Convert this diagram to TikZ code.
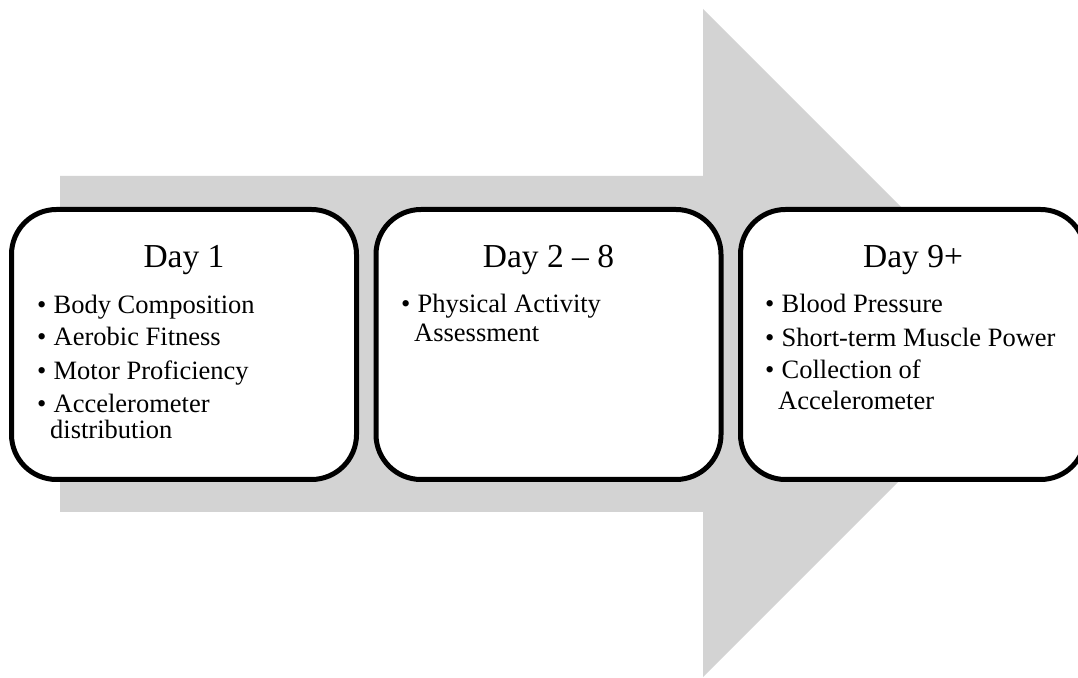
\documentclass[tikz,border=0pt]{standalone}
\usepackage{fontspec}
\setmainfont{Liberation Serif}
\definecolor{arrowgrey}{RGB}{211,211,211}
\newcommand\bul{\makebox[16.5pt][l]{\textbullet}}
\tikzset{
  daybox/.style={draw=black, line width=5pt, fill=white, rounded corners=45pt,
    minimum width=345pt, minimum height=270pt, inner sep=0pt},
  daytitle/.style={anchor=base, inner sep=0pt, font=\fontsize{33.5}{36}\selectfont},
  dayitem/.style={anchor=base west, inner sep=0pt, font=\fontsize{26.5}{28}\selectfont},
}
\begin{document}
\begin{tikzpicture}[x=1pt,y=1pt]
\useasboundingbox (0,0) rectangle (1078,677);
\clip (0,0) rectangle (1078,677);
\fill[arrowgrey] (60,501) -- (703,501) -- (703,668) -- (1037,334) -- (703,0) -- (703,165) -- (60,165) -- cycle;
\node[daybox] (b1) at (184,332.5) {};
\node[daybox] (b2) at (548.5,332.5) {};
\node[daybox] (b3) at (913,332.5) {};
\node[daytitle] (t1) at (184,409.5) {Day 1};
\node[daytitle] (t2) at (548.5,409.5) {Day 2 – 8};
\node[daytitle] (t3) at (913,409.5) {Day 9+};
\node[dayitem] (i11) at (37,363) {\bul Body Composition};
\node[dayitem] (i12) at (37,331) {\bul Aerobic Fitness};
\node[dayitem] (i13) at (37,297) {\bul Motor Proficiency};
\node[dayitem] (i14) at (37,264) {\bul Accelerometer};
\node[dayitem] (i14b) at (50,238) {distribution};
\node[dayitem] (i21) at (401,364) {\bul Physical Activity};
\node[dayitem] (i21b) at (414,335) {Assessment};
\node[dayitem] (i31) at (765,364) {\bul Blood Pressure};
\node[dayitem] (i32) at (765,330) {\bul Short-term Muscle Power};
\node[dayitem] (i33) at (765,298) {\bul Collection of};
\node[dayitem] (i33b) at (778,267) {Accelerometer};
\end{tikzpicture}
\end{document}
